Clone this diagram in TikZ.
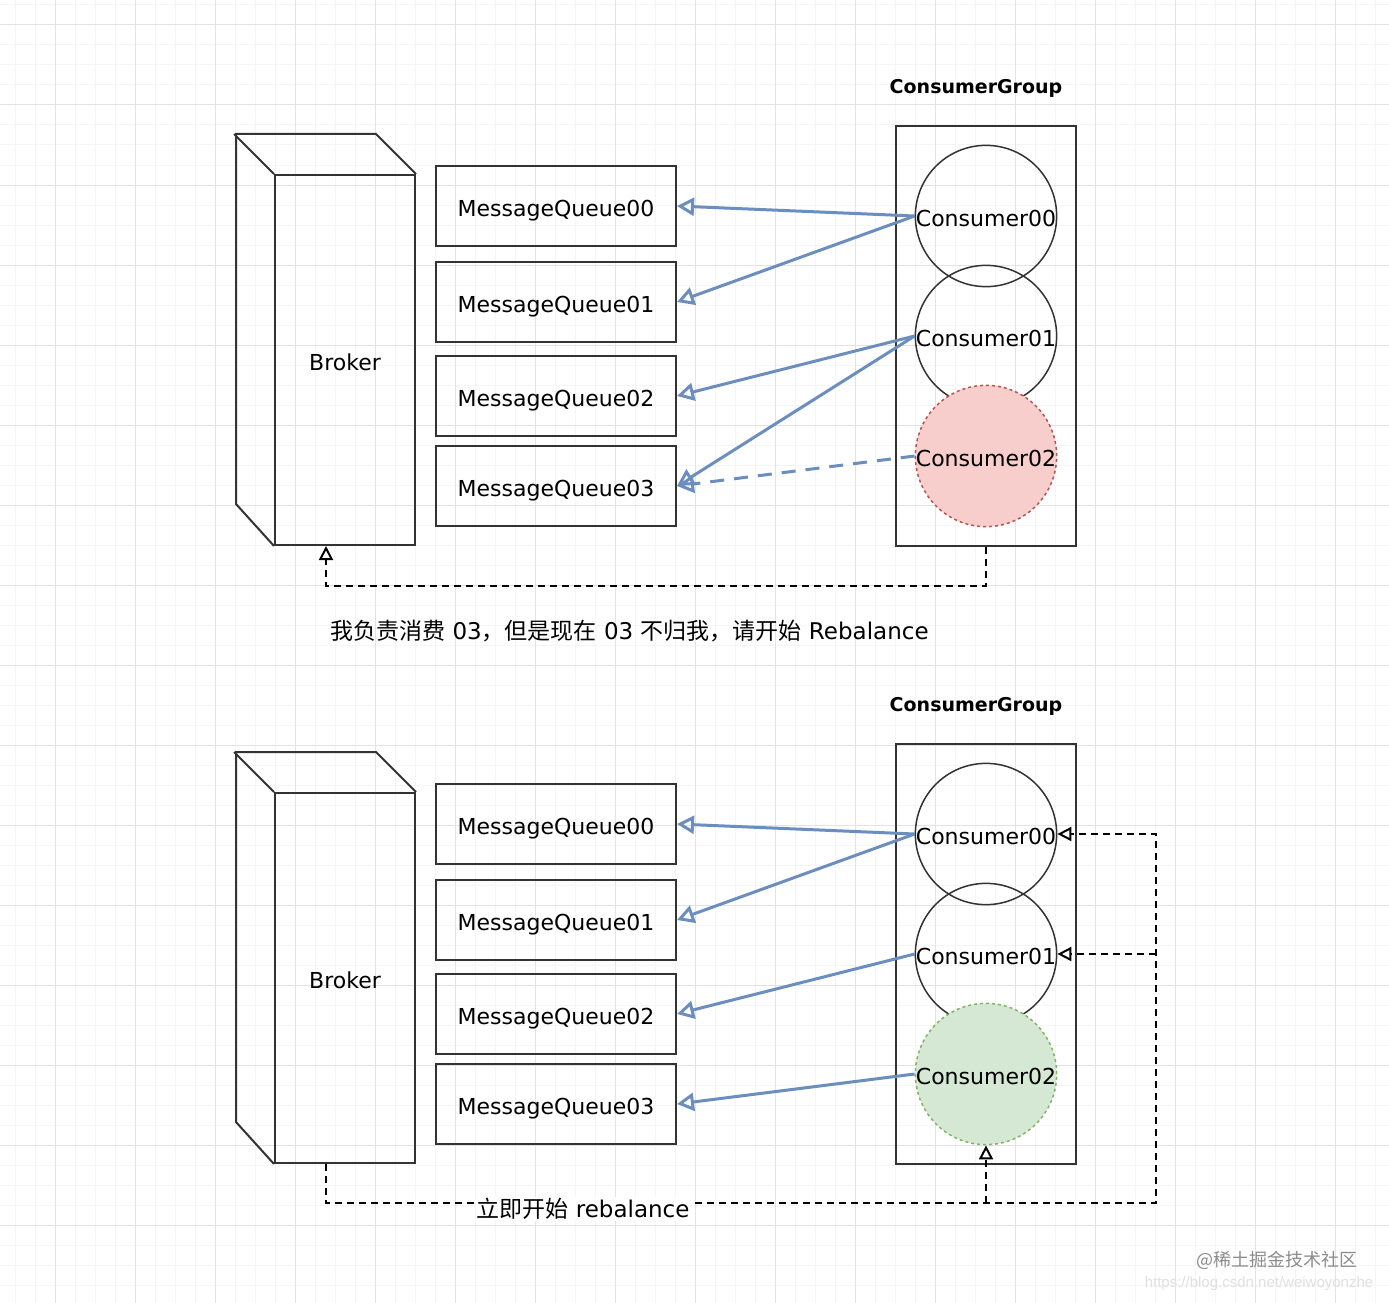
\documentclass[tikz,border=0pt]{standalone}
\usepackage{fontspec}
\setmainfont{DejaVu Sans}
\newfontfamily\cjk{Noto Sans CJK SC}
\newfontfamily\urlfont{Liberation Sans}
\usetikzlibrary{arrows.meta,positioning}
\definecolor{linegray}{HTML}{333333}
\definecolor{mqblue}{HTML}{6C8EBF}
\definecolor{pinkfill}{HTML}{F8CECC}
\definecolor{pinkline}{HTML}{B85450}
\definecolor{greenfill}{HTML}{D5E8D4}
\definecolor{greenline}{HTML}{82B366}
\definecolor{gridmajor}{HTML}{E3E3E3}
\definecolor{gridminor}{HTML}{F5F5F5}
\tikzset{
  label font/.style={font=\fontsize{22}{26}\selectfont, text height=20pt, text depth=0pt},
  broker/.style={draw=linegray, line width=2pt, minimum width=140pt, minimum height=370pt, label font},
  brokerline/.style={draw=linegray, line width=2pt, line join=miter},
  queue/.style={draw=linegray, line width=2pt, minimum width=240pt, minimum height=80pt, label font},
  group/.style={draw=linegray, line width=2pt, minimum width=180pt, minimum height=420pt},
  grouptitle/.style={font=\bfseries\fontsize{19}{22}\selectfont},
  consumer/.style={circle, draw=linegray, line width=1.5pt, minimum size=140pt, inner sep=0pt, label font},
  assign/.style={draw=mqblue, line width=3pt, -{Triangle[open, length=17pt, width=18pt]}},
  notify/.style={draw=black, line width=2pt, dash pattern=on 7pt off 5pt, -{Triangle[open, length=14pt, width=14pt]}},
  note/.style={font=\fontsize{23}{26}\selectfont, inner sep=2pt},
}
\begin{document}
\begin{tikzpicture}[x=1pt, y=-1pt]
\useasboundingbox (0,0) rectangle (1389,1303);
\fill[white] (0,0) rectangle (1389,1303);
\foreach \x in {15,35,...,1389} \draw[gridminor, line width=1pt] (\x,0) -- (\x,1303);
\foreach \y in {5,25,...,1303} \draw[gridminor, line width=1pt] (0,\y) -- (1389,\y);
\foreach \x in {55,135,...,1389} \draw[gridmajor, line width=1pt] (\x,0) -- (\x,1303);
\foreach \y in {25,105,...,1303} \draw[gridmajor, line width=1pt] (0,\y) -- (1389,\y);

% before the rebalance
\node[broker] (broker) at (345,360) {Broker};
\draw[brokerline] (broker.north east) -- ++(-40,-40) -- ++(-140,0) -- ++(0,370) -- (broker.south west);
\draw[brokerline] (broker.north west) -- ++(-40,-40);
\node[queue] (mq00) at (556,206) {MessageQueue00};
\node[queue] (mq01) at (556,302) {MessageQueue01};
\node[queue] (mq02) at (556,396) {MessageQueue02};
\node[queue] (mq03) at (556,486) {MessageQueue03};
\node[group] (group) at (986,336) {};
\node[grouptitle] (grouplabel) at (976,88) {ConsumerGroup};
\node[consumer] (c00) at (986,216) {Consumer00};
\node[consumer] (c01) at (986,336) {Consumer01};
\node[consumer, fill=pinkfill, draw=pinkline, dashed] (c02) at (986,456) {Consumer02};
\draw[assign] (c00.west) -- (mq00.east);
\draw[assign] (c00.west) -- (mq01.east);
\draw[assign] (c01.west) -- (mq02.east);
\draw[assign] (c01.west) -- (mq03.east);
\draw[assign, dash pattern=on 14pt off 10pt] (c02.west) -- (mq03.east);
\draw[notify] (group.south) -- ++(0,39) -| ([xshift=-19pt]broker.south);
\node[note, anchor=west] (note1) at (328,631) {{\cjk 我负责消费} 03{\cjk ，但是现在} 03 {\cjk 不归我，请开始} Rebalance};

% after the rebalance
\node[broker] (broker2) at (345,978) {Broker};
\draw[brokerline] (broker2.north east) -- ++(-40,-40) -- ++(-140,0) -- ++(0,370) -- (broker2.south west);
\draw[brokerline] (broker2.north west) -- ++(-40,-40);
\node[queue] (mq10) at (556,824) {MessageQueue00};
\node[queue] (mq11) at (556,920) {MessageQueue01};
\node[queue] (mq12) at (556,1014) {MessageQueue02};
\node[queue] (mq13) at (556,1104) {MessageQueue03};
\node[group] (group2) at (986,954) {};
\node[grouptitle] (grouplabel2) at (976,706) {ConsumerGroup};
\node[consumer] (c10) at (986,834) {Consumer00};
\node[consumer] (c11) at (986,954) {Consumer01};
\node[consumer, fill=greenfill, draw=greenline, dashed] (c12) at (986,1074) {Consumer02};
\draw[assign] (c10.west) -- (mq10.east);
\draw[assign] (c10.west) -- (mq11.east);
\draw[assign] (c11.west) -- (mq12.east);
\draw[assign] (c12.west) -- (mq13.east);
\coordinate (busend) at (1156,1203);
\draw[notify] ([xshift=-19pt]broker2.south) |- (busend) |- (c10.east);
\draw[notify] (busend |- c11.east) -- (c11.east);
\draw[notify] (c12.south |- busend) -- (c12.south);
\node[note, fill=white, inner sep=1pt] (note2) at (583,1209) {{\cjk 立即开始} rebalance};

\node[text=black!45, font=\cjk\fontsize{18}{20}\selectfont] (mark) at (1277,1260) {@稀土掘金技术社区};
\node[text=black!12, font=\urlfont\fontsize{15}{17}\selectfont] (url) at (1259,1284) {https://blog.csdn.net/weiwoyonzhe};
\end{tikzpicture}
\end{document}
